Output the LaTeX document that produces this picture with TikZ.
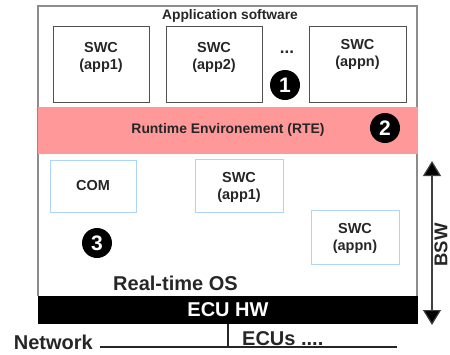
\documentclass[tikz,border=0pt]{standalone}
\usepackage{fontspec}
\setmainfont{Liberation Sans}
\usetikzlibrary{arrows.meta}
\definecolor{rtepink}{RGB}{255,153,153}
\definecolor{lblue}{RGB}{175,212,250}
\definecolor{frame}{RGB}{140,140,140}
\definecolor{boxgray}{RGB}{80,80,80}
\begin{document}
\begin{tikzpicture}[x=1pt,y=-1pt,
  lbl/.style={font=\fontsize{14.5}{17}\selectfont\bfseries, align=center, text=black!85},
  topbox/.style={draw=boxgray, line width=1.2pt, minimum width=96pt, minimum height=76pt, anchor=north west, inner sep=0pt},
  lowbox/.style={draw=lblue, line width=1pt, anchor=north west, inner sep=0pt},
  numdot/.style={circle, fill=black, text=white, minimum size=30pt, inner sep=0pt, font=\fontsize{21}{21}\selectfont\bfseries},
  big/.style={font=\fontsize{20}{22}\selectfont\bfseries, text=black!85, inner sep=0pt}
]
\useasboundingbox (0,0) rectangle (450,354);
% outer frame
\draw[frame, line width=1.8pt] (38,296) -- (38,6) -- (417,6) -- (417,296);
\node[lbl, font=\fontsize{13.8}{16}\selectfont\bfseries, inner sep=0pt] (appsw) at (230,16) {Application software};
% top SWC boxes
\node[topbox, minimum width=96pt] (s1) at (53,26) {};
\node[lbl] (s1t) at (101,57) {SWC\\(app1)};
\node[topbox, minimum width=96pt] (s2) at (166,26) {};
\node[lbl] (s2t) at (214,57) {SWC\\(app2)};
\node[topbox, minimum width=97pt] (sn) at (309,26) {};
\node[lbl] (snt) at (357.5,54) {SWC\\(appn)};
\node[lbl, font=\fontsize{17}{17}\selectfont\bfseries, inner sep=0pt] (dots) at (287,52) {...};
\node[numdot] (n1) at (285,85) {1};
% RTE band
\node[fill=rtepink, minimum width=380pt, minimum height=47pt, anchor=north west, inner sep=0pt] (rte) at (38,107) {};
\node[lbl, font=\fontsize{13.9}{16}\selectfont\bfseries] (rtet) at (228,130) {Runtime Environement (RTE)};
\node[numdot] (n2) at (385,128) {2};
% lower boxes
\node[lowbox, minimum width=86pt, minimum height=52pt] (com) at (50,160) {};
\node[lbl] (comt) at (93,186) {COM};
\node[lowbox, minimum width=88pt, minimum height=53pt] (l1) at (195,159) {};
\node[lbl] (l1t) at (239,187.5) {SWC\\(app1)};
\node[lowbox, minimum width=88pt, minimum height=54pt] (ln) at (311,210) {};
\node[lbl] (lnt) at (355,238.5) {SWC\\(appn)};
\node[numdot] (n3) at (97,243) {3};
\node[big, anchor=base west] (os) at (113,290) {Real-time OS};
% ECU HW bar
\node[fill=black, minimum width=380pt, minimum height=28pt, anchor=north west, inner sep=0pt] (ecu) at (37.5,296) {};
\node[big, text=white] (ecut) at (228,310) {ECU HW};
% BSW arrow
\coordinate (bswtop) at (432,161);
\coordinate (bswbot) at (432,325);
\draw[line width=1.2pt, black!75, {Triangle[width=18pt,length=15pt,fill=black]}-{Triangle[width=18pt,length=15pt,fill=black]}] (bswtop) -- (bswbot);
\node[big, font=\fontsize{18.5}{20}\selectfont\bfseries, rotate=90] (bsw) at (441,245) {BSW};
% network
\coordinate (netl) at (100,347);
\coordinate (netr) at (397,347);
\coordinate (tap) at (228,347);
\draw[line width=1.5pt, black!85] (netl) -- (netr);
\draw[line width=1.5pt, black!85] (ecu.south -| tap) -- (tap);
\node[big, anchor=base east] (net) at (93,349) {Network};
\node[big, anchor=base west] (ecus) at (242,345) {ECUs ....};
\end{tikzpicture}
\end{document}
